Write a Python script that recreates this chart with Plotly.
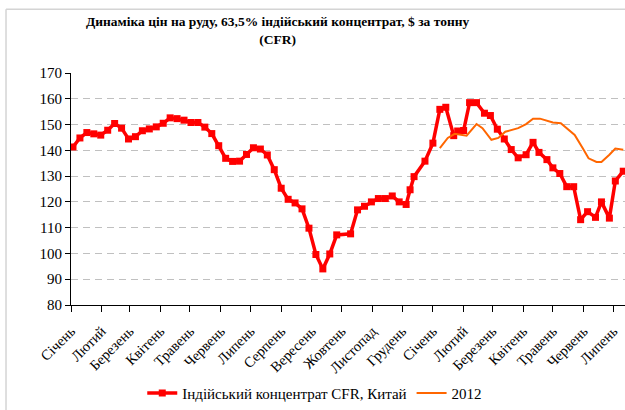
import plotly.graph_objects as go

# weekly prices, Indian 63.5% concentrate CFR China, $/t
india_dates = [
    "2011-01-03", "2011-01-10", "2011-01-17", "2011-01-24", "2011-01-31",
    "2011-02-07", "2011-02-14", "2011-02-21", "2011-02-28",
    "2011-03-07", "2011-03-14", "2011-03-21", "2011-03-28",
    "2011-04-04", "2011-04-11", "2011-04-18", "2011-04-25",
    "2011-05-02", "2011-05-09", "2011-05-16", "2011-05-23", "2011-05-30",
    "2011-06-06", "2011-06-13", "2011-06-20", "2011-06-27",
    "2011-07-04", "2011-07-11", "2011-07-18", "2011-07-25",
    "2011-08-01", "2011-08-08", "2011-08-15", "2011-08-22", "2011-08-29",
    "2011-09-05", "2011-09-12", "2011-09-19", "2011-09-26",
    "2011-10-10", "2011-10-17", "2011-10-24", "2011-10-31",
    "2011-11-07", "2011-11-14", "2011-11-21", "2011-11-28",
    "2011-12-05", "2011-12-09", "2011-12-13", "2011-12-24",
    "2012-01-01", "2012-01-08", "2012-01-14", "2012-01-22", "2012-01-26",
    "2012-02-01", "2012-02-07", "2012-02-14", "2012-02-22", "2012-02-28",
    "2012-03-06", "2012-03-13", "2012-03-20", "2012-03-27",
    "2012-04-04", "2012-04-11", "2012-04-17", "2012-04-25",
    "2012-05-01", "2012-05-08", "2012-05-15", "2012-05-22", "2012-05-29",
    "2012-06-05", "2012-06-13", "2012-06-19", "2012-06-27",
    "2012-07-03", "2012-07-11",
]
india_prices = [
    141.3, 144.8, 146.9, 146.4, 145.9,
    147.8, 150.4, 148.6, 144.4,
    145.3, 147.6, 148.3, 149.1,
    150.5, 152.6, 152.3, 151.7,
    150.8, 150.8, 149.0, 146.5, 141.8,
    136.9, 135.7, 135.8, 138.4,
    141.0, 140.5, 138.2, 132.5,
    125.3, 121.0, 119.6, 117.3, 109.8,
    99.6, 94.0, 99.8, 107.2,
    107.6, 116.9, 118.3, 120.0,
    121.3, 121.3, 122.3, 120.0,
    119.0, 124.7, 129.8, 135.8,
    142.8, 155.9, 156.7, 145.7, 147.5,
    147.7, 158.5, 158.5, 154.4, 153.5,
    148.2, 144.4, 140.3, 137.1,
    138.3, 143.1, 139.2, 136.4,
    133.2, 131.0, 125.9, 125.9, 113.1,
    116.2, 114.0, 120.0, 113.7,
    128.1, 131.9,
]

y2012_dates = [
    "2012-01-08", "2012-01-16", "2012-01-23", "2012-02-04", "2012-02-14",
    "2012-02-20", "2012-02-29", "2012-03-07", "2012-03-14", "2012-03-27",
    "2012-04-04", "2012-04-11", "2012-04-18", "2012-05-01", "2012-05-09",
    "2012-05-15", "2012-05-23", "2012-05-31", "2012-06-06", "2012-06-14",
    "2012-06-19", "2012-06-27", "2012-07-03", "2012-07-11",
]
y2012_prices = [
    140.9, 144.8, 146.4, 145.7, 150.2,
    148.6, 144.1, 144.8, 147.2, 148.6,
    150.2, 152.3, 152.3, 150.8, 150.5,
    148.6, 146.0, 140.9, 136.9, 135.5,
    135.5, 138.3, 140.7, 140.2,
]

month_ticks = [
    "2011-01-01", "2011-02-01", "2011-03-01", "2011-04-01", "2011-05-01",
    "2011-06-01", "2011-07-01", "2011-08-01", "2011-09-01", "2011-10-01",
    "2011-11-01", "2011-12-01", "2012-01-01", "2012-02-01", "2012-03-01",
    "2012-04-01", "2012-05-01", "2012-06-01", "2012-07-01",
]
month_labels = [
    "Січень", "Лютий", "Березень", "Квітень", "Травень", "Червень",
    "Липень", "Серпень", "Вересень", "Жовтень", "Листопад", "Грудень",
    "Січень", "Лютий", "Березень", "Квітень", "Травень", "Червень", "Липень",
]

FONT = "Liberation Serif"

fig = go.Figure()
fig.add_trace(go.Scatter(
    x=india_dates, y=india_prices, mode="lines+markers",
    name="Індійський концентрат CFR, Китай",
    line={"color": "#FF0000", "width": 3.5},
    marker={"symbol": "square", "size": 7, "color": "#FF0000"},
))
fig.add_trace(go.Scatter(
    x=y2012_dates, y=y2012_prices, mode="lines", name="2012",
    line={"color": "#FF6600", "width": 2},
))

fig.add_annotation(
    text="<b>Динаміка цін на руду, 63,5% індійський концентрат, $ за тонну<br>(CFR)</b>",
    xref="paper", yref="paper", x=0.3736, y=1.182,
    xanchor="center", yanchor="middle", showarrow=False,
    font={"family": FONT, "size": 13.5, "color": "black"},
)

# light chart-area frame (left and top edges)
for x0, y0, x1, y1 in [(-0.1173, 1.2753, 1.2, 1.2753), (-0.1173, 1.2753, -0.1173, -0.5)]:
    fig.add_shape(type="line", xref="paper", yref="paper",
                  x0=x0, y0=y0, x1=x1, y1=y1,
                  line={"color": "#D4D4D4", "width": 1.5})

fig.update_layout(
    width=625, height=410,
    margin={"l": 71, "r": 0, "t": 73, "b": 102},
    paper_bgcolor="white", plot_bgcolor="white",
    font={"family": FONT, "size": 15, "color": "black"},
    showlegend=True,
    legend={"orientation": "h", "x": 0.44, "xanchor": "center",
            "y": -0.38, "yanchor": "middle", "font": {"size": 15},
            "itemwidth": 30},
    xaxis={
        "type": "date",
        "range": ["2011-01-01", "2012-07-12 18:00"],
        "tickvals": month_ticks, "ticktext": month_labels,
        "tickangle": -45, "ticks": "outside", "ticklen": 6,
        "tickcolor": "black", "showline": True, "linecolor": "black",
        "linewidth": 1, "showgrid": False, "zeroline": False,
        "tickfont": {"size": 14.5}, "ticklabelstandoff": 5,
    },
    yaxis={
        "range": [80, 170], "dtick": 10, "tick0": 80,
        "ticks": "outside", "ticklen": 5, "tickcolor": "black",
        "showline": True, "linecolor": "black", "linewidth": 1,
        "showgrid": True, "gridcolor": "#C0C0C0", "griddash": "7px,5px",
        "gridwidth": 1, "zeroline": False, "tickfont": {"size": 15},
    },
    # overlay axis only to draw the inner half of the crossing ticks
    yaxis2={
        "overlaying": "y", "range": [80, 170], "dtick": 10, "tick0": 80,
        "ticks": "inside", "ticklen": 5, "tickcolor": "black",
        "showticklabels": False, "showgrid": False, "zeroline": False,
        "showline": False, "side": "left",
    },
)

# drop the browser's default body margin so the figure sits at 0,0
fig.write_html("out.html", config={"displayModeBar": False},
               post_script="document.body.style.margin = '0';")
